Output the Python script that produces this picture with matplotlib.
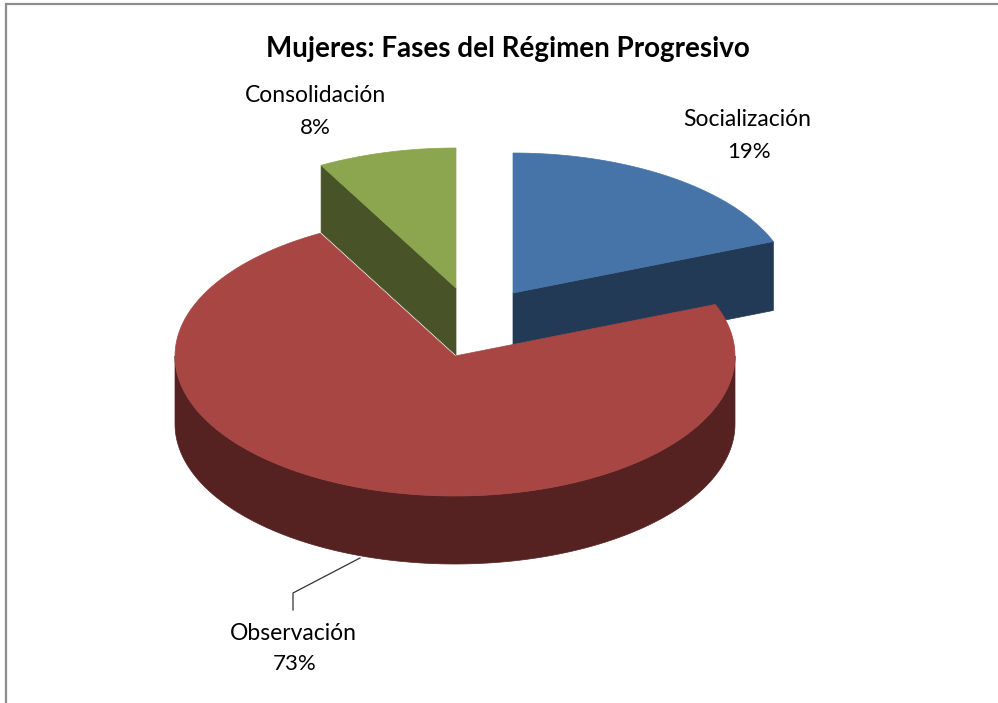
import numpy as np
import matplotlib
matplotlib.use("Agg")
import matplotlib.pyplot as plt
from matplotlib.patches import Polygon

# Data
categories = ["Socialización", "Observación", "Consolidación"]
shares = [19, 73, 8]
title = "Mujeres: Fases del Régimen Progresivo"

# Style
top_colors = ["#4674A8", "#A84644", "#8BA64F"]
side_colors = ["#233A56", "#562221", "#495328"]

# Layout (pixel space)
W, H = 998, 703
RX, RY = 280, 140
CENTRE = (455, 356)
OFFSETS = [(58, -63), (0, 0), (1, -68)]
DEPTHS = [69, 68, 67]

fig = plt.figure(figsize=(W / 100, H / 100), dpi=100)
ax = fig.add_axes([0, 0, 1, 1])
ax.set_xlim(0, W)
ax.set_ylim(H, 0)
ax.axis("off")


def rim(cx, cy, a0, a1, n=200):
    t = np.linspace(a0, a1, n)
    return np.column_stack([cx + RX * np.sin(t), cy - RY * np.cos(t)])


fr = np.array(shares) / sum(shares)
edges = np.concatenate([[0], np.cumsum(fr)]) * 2 * np.pi
centres = [(CENTRE[0] + o[0], CENTRE[1] + o[1]) for o in OFFSETS]


def cut_face(i, angle):
    cx, cy = centres[i]
    d = DEPTHS[i]
    p = rim(cx, cy, angle, angle, 1)[0]
    return [(cx, cy), tuple(p), (p[0], p[1] + d), (cx, cy + d)]


# Walls of the separated slices (behind the large slice)
ax.add_patch(Polygon(cut_face(0, edges[1]), fc=side_colors[0], ec=side_colors[0], lw=0.5, zorder=1))
ax.add_patch(Polygon(cut_face(2, edges[2]), fc=side_colors[2], ec=side_colors[2], lw=0.5, zorder=1))

# Tops of the separated slices
for i in (0, 2):
    cx, cy = centres[i]
    pts = np.vstack([[cx, cy], rim(cx, cy, edges[i], edges[i + 1])])
    ax.add_patch(Polygon(pts, fc=top_colors[i], ec=top_colors[i], lw=0.5, zorder=2))

# Large slice: outer wall then top
cx, cy = centres[1]
d = DEPTHS[1]
front = rim(cx, cy, np.pi / 2, 3 * np.pi / 2)
wall = np.vstack([front, (front + [0, d])[::-1]])
ax.add_patch(Polygon(wall, fc=side_colors[1], ec=side_colors[1], lw=0.5, zorder=3))
pts = np.vstack([[cx, cy], rim(cx, cy, edges[1], edges[2])])
ax.add_patch(Polygon(pts, fc=top_colors[1], ec=top_colors[1], lw=0.5, zorder=4))

# Chart frame (top and left sides are visible)
ax.plot([6.5, 6.5, W], [H, 3.5, 3.5], color="#8C8C8C", lw=1.6, solid_joinstyle="miter", zorder=0)

# Leader line
ax.plot([360, 293, 293], [558, 593, 610], color="#333333", lw=0.9, zorder=5)

# Text
fam = ["Lato", "DejaVu Sans"]
ax.text(507.5, 48.5, title, ha="center", va="center", fontsize=20, fontweight="bold",
        family=fam, color="black")
label_pos = [(747.5, 120), (293.5, 633), (315.5, 96)]
for name, share, (x, y) in zip(categories, shares, label_pos):
    ax.text(x, y, name, ha="center", va="center", fontsize=16.5, family=fam, color="black")
    ax.text(x + (1 if share == 73 else 2 if share == 19 else 0), y + 31.5, f"{share}%",
            ha="center", va="center", fontsize=16, family=fam, color="black")

fig.savefig("out.png", dpi=100, facecolor="white")
